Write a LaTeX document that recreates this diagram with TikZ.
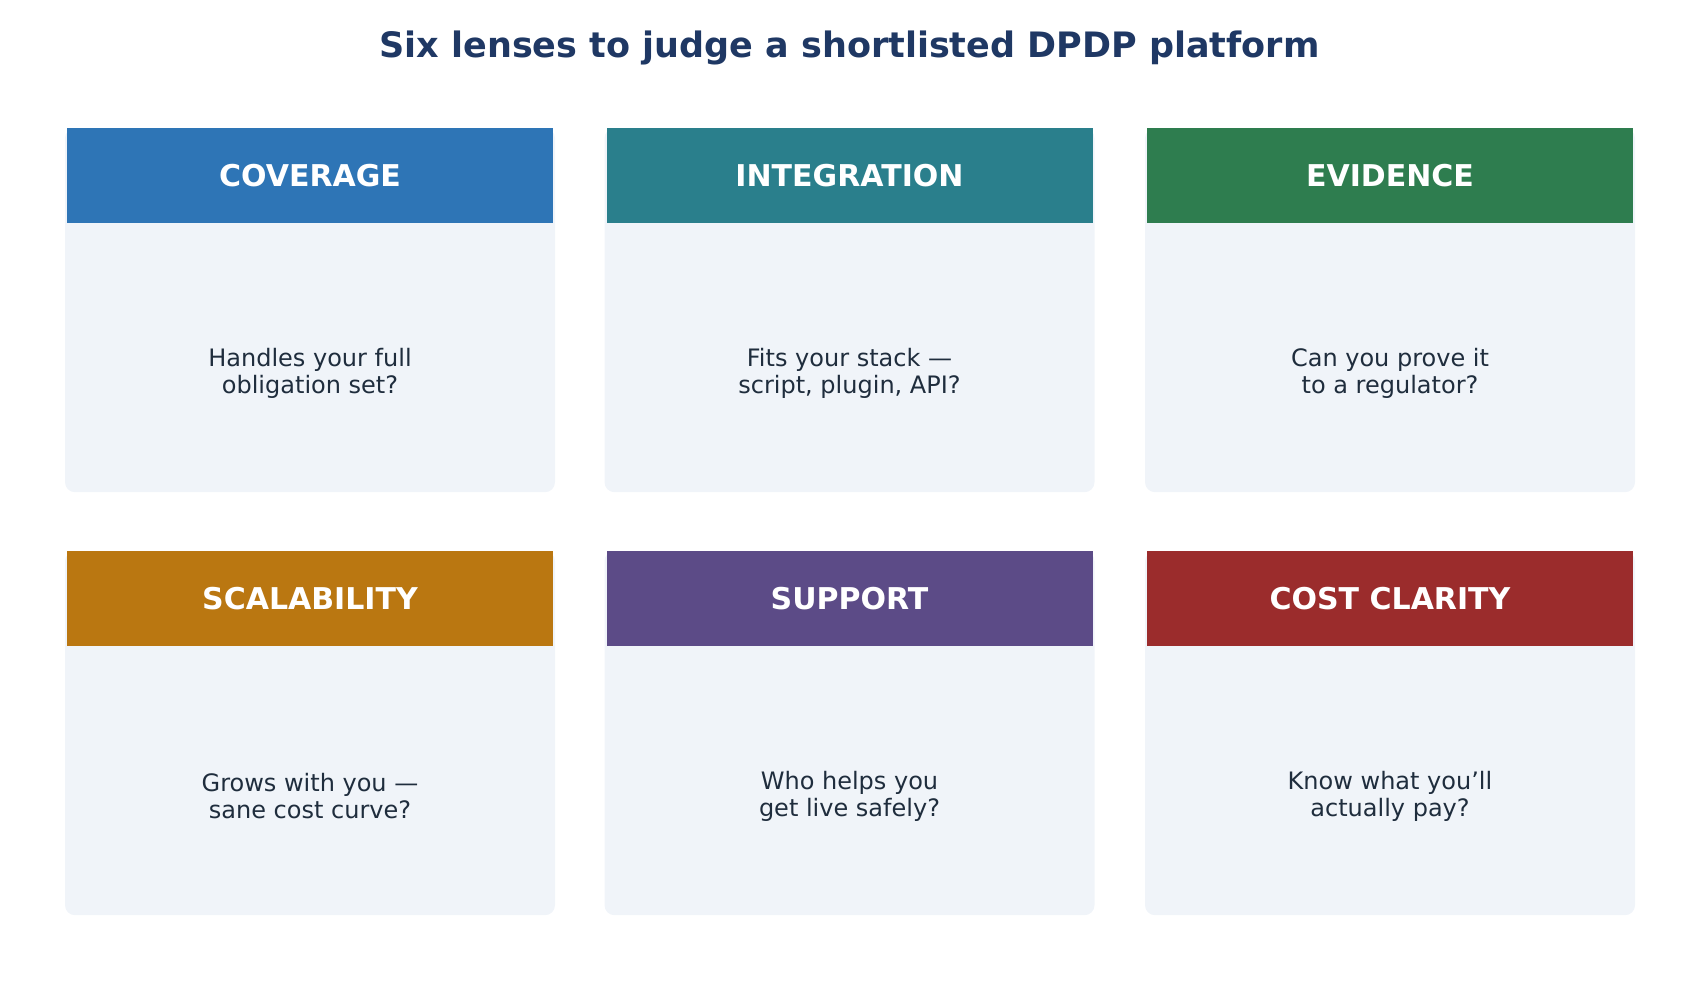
\documentclass[tikz,border=0pt]{standalone}
\usepackage{fontspec}
\setmainfont{DejaVu Sans}
\usetikzlibrary{positioning}
\definecolor{TitleClr}{HTML}{1F3864}
\definecolor{CardClr}{HTML}{F0F4F9}
\definecolor{BodyClr}{HTML}{1F2D3D}
\definecolor{CoverageClr}{HTML}{2E75B6}
\definecolor{IntegrationClr}{HTML}{2A7F8C}
\definecolor{EvidenceClr}{HTML}{2E7D4F}
\definecolor{ScaleClr}{HTML}{BA7711}
\definecolor{SupportClr}{HTML}{5C4B87}
\definecolor{CostClr}{HTML}{9B2C2C}

\begin{document}
\begin{tikzpicture}[x=1pt,y=-1pt,
  card/.style={fill=CardClr,rounded corners=10pt,minimum width=490pt,minimum height=364pt,inner sep=0pt},
  band/.style={minimum width=486pt,minimum height=95pt,inner sep=0pt,text=white,font=\fontsize{30}{30}\selectfont\bfseries},
  body/.style={text=BodyClr,align=center,font=\fontsize{24}{27}\selectfont}]
\useasboundingbox (0,0) rectangle (1699,980);

\node[text=TitleClr,font=\fontsize{35}{35}\selectfont\bfseries] (title) at (849.5,48) {Six lenses to judge a shortlisted DPDP platform};

\foreach \name/\cx/\cy/\clr/\head/\txt in {
  cov/310/128/CoverageClr/COVERAGE/{Handles your full\\obligation set?},
  int/849.5/128/IntegrationClr/INTEGRATION/{Fits your stack —\\script, plugin, API?},
  evi/1390/128/EvidenceClr/EVIDENCE/{Can you prove it\\to a regulator?},
  sca/310/551/ScaleClr/SCALABILITY/{Grows with you —\\sane cost curve?},
  sup/849.5/551/SupportClr/SUPPORT/{Who helps you\\get live safely?},
  cst/1390/551/CostClr/COST CLARITY/{Know what you'll\\actually pay?}}{
  \node[card,anchor=north] (\name) at (\cx,\cy) {};
  \node[band,fill=\clr,anchor=north] (\name-head) at (\cx,\cy) {\head};
  \node[body] (\name-text) at (\cx,\cy+245) {\txt};
}

\end{tikzpicture}
\end{document}
